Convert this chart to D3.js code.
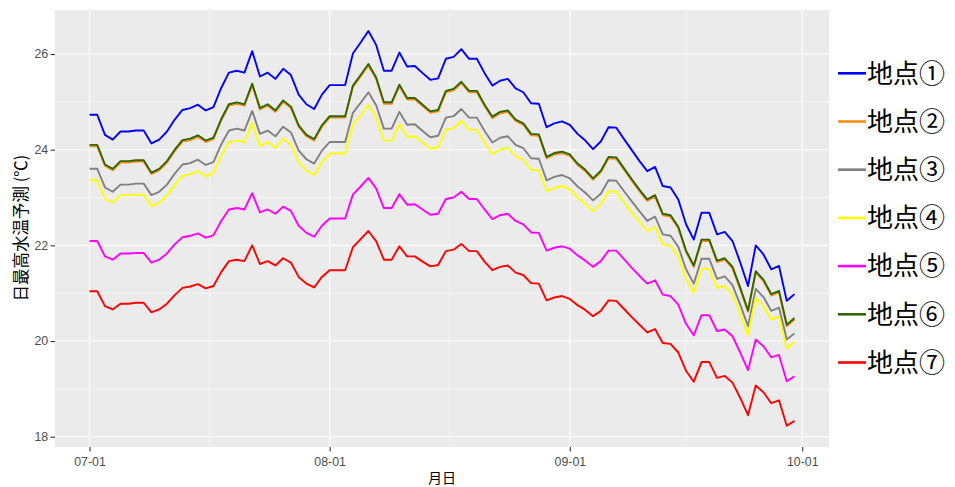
<!DOCTYPE html>
<html><head><meta charset="utf-8">
<script src="https://cdn.jsdelivr.net/npm/d3@7"></script>
<style>body{margin:0;background:#fff}svg{display:block}</style>
</head><body><div id="chart"></div>
<script>
const startDate = "2020-07-01";
const endDate = "2020-09-30";
const seriesNames = ["地点①","地点②","地点③","地点④","地点⑤","地点⑥","地点⑦"];
const seriesColors = ["#0000FF","#FF8C1A","#808080","#FFFF00","#FF00FF","#2F6600","#FF0000"];
const yTicks = [18,20,22,24,26];
const xTickLabels = ["07-01","08-01","09-01","10-01"];

const site1 = [24.73,24.73,24.31,24.21,24.38,24.38,24.40,24.40,24.13,24.21,24.38,24.63,24.83,24.87,24.94,24.82,24.89,25.29,25.61,25.65,25.61,26.06,25.53,25.61,25.48,25.69,25.56,25.15,24.95,24.85,25.15,25.35,25.35,25.35,26.01,26.24,26.48,26.19,25.65,25.65,26.03,25.74,25.75,25.60,25.46,25.49,25.90,25.94,26.10,25.90,25.90,25.60,25.34,25.44,25.48,25.28,25.20,24.97,24.96,24.47,24.55,24.59,24.52,24.33,24.19,24.01,24.17,24.47,24.46,24.22,23.99,23.76,23.55,23.64,23.24,23.21,22.96,22.44,22.12,22.68,22.68,22.23,22.28,22.09,21.64,21.15,22.00,21.81,21.50,21.57,20.84,20.98];
const site2 = [24.07,24.07,23.66,23.57,23.73,23.73,23.75,23.75,23.49,23.57,23.73,23.97,24.17,24.20,24.27,24.16,24.22,24.61,24.92,24.96,24.92,25.35,24.84,24.92,24.79,25.00,24.87,24.48,24.28,24.19,24.48,24.67,24.67,24.67,25.31,25.53,25.76,25.48,24.96,24.96,25.33,25.05,25.05,24.91,24.77,24.80,25.20,25.24,25.39,25.20,25.20,24.91,24.66,24.76,24.79,24.60,24.52,24.30,24.29,23.82,23.90,23.93,23.87,23.68,23.55,23.37,23.53,23.82,23.81,23.58,23.35,23.13,22.93,23.02,22.63,22.60,22.36,21.86,21.55,22.09,22.09,21.65,21.70,21.52,21.08,20.61,21.43,21.25,20.95,21.02,20.31,20.45];
const site3 = [23.60,23.60,23.21,23.12,23.27,23.27,23.29,23.29,23.05,23.12,23.27,23.50,23.69,23.72,23.79,23.68,23.74,24.11,24.40,24.44,24.40,24.81,24.33,24.40,24.28,24.48,24.36,23.98,23.80,23.71,23.98,24.16,24.16,24.16,24.77,24.98,25.20,24.93,24.44,24.44,24.79,24.52,24.53,24.39,24.26,24.29,24.67,24.70,24.85,24.67,24.67,24.39,24.15,24.25,24.28,24.10,24.03,23.82,23.81,23.36,23.43,23.47,23.40,23.23,23.10,22.94,23.08,23.36,23.35,23.13,22.92,22.71,22.51,22.60,22.23,22.20,21.97,21.50,21.20,21.72,21.72,21.30,21.35,21.17,20.76,20.31,21.09,20.92,20.63,20.70,20.03,20.16];
const site4 = [23.36,23.36,22.98,22.89,23.05,23.05,23.06,23.06,22.82,22.89,23.05,23.27,23.45,23.49,23.55,23.44,23.51,23.87,24.16,24.19,24.16,24.56,24.08,24.16,24.04,24.23,24.11,23.74,23.56,23.47,23.74,23.92,23.92,23.92,24.52,24.72,24.94,24.68,24.19,24.19,24.53,24.27,24.28,24.15,24.02,24.05,24.42,24.45,24.60,24.42,24.42,24.15,23.91,24.00,24.04,23.86,23.79,23.58,23.57,23.13,23.20,23.24,23.17,23.00,22.87,22.71,22.86,23.13,23.12,22.90,22.69,22.49,22.30,22.38,22.02,21.99,21.77,21.30,21.01,21.51,21.51,21.11,21.15,20.98,20.57,20.13,20.90,20.73,20.45,20.51,19.85,19.98];
const site5 = [22.09,22.09,21.77,21.70,21.83,21.83,21.84,21.84,21.64,21.70,21.83,22.02,22.17,22.20,22.25,22.16,22.21,22.51,22.75,22.78,22.75,23.09,22.69,22.75,22.66,22.81,22.72,22.41,22.26,22.18,22.41,22.56,22.56,22.56,23.06,23.23,23.41,23.19,22.78,22.78,23.07,22.85,22.86,22.75,22.64,22.66,22.97,23.00,23.12,22.97,22.97,22.75,22.55,22.63,22.66,22.51,22.44,22.27,22.26,21.89,21.95,21.98,21.93,21.79,21.68,21.55,21.67,21.89,21.89,21.71,21.53,21.36,21.20,21.27,20.97,20.94,20.76,20.36,20.12,20.54,20.54,20.21,20.24,20.10,19.76,19.39,20.03,19.89,19.66,19.71,19.16,19.26];
const site6 = [24.10,24.10,23.69,23.60,23.76,23.76,23.78,23.78,23.52,23.60,23.76,24.00,24.20,24.23,24.30,24.19,24.25,24.64,24.95,24.99,24.95,25.38,24.87,24.95,24.82,25.03,24.90,24.51,24.31,24.22,24.51,24.70,24.70,24.70,25.34,25.56,25.79,25.51,24.99,24.99,25.36,25.08,25.08,24.94,24.80,24.83,25.23,25.27,25.42,25.23,25.23,24.94,24.69,24.79,24.82,24.63,24.55,24.33,24.32,23.85,23.93,23.96,23.90,23.71,23.58,23.40,23.56,23.85,23.84,23.61,23.38,23.16,22.96,23.05,22.66,22.63,22.39,21.89,21.58,22.12,22.12,21.68,21.73,21.55,21.11,20.64,21.46,21.28,20.98,21.05,20.34,20.48];
const site7 = [21.04,21.04,20.73,20.66,20.78,20.78,20.80,20.80,20.60,20.66,20.78,20.96,21.11,21.14,21.19,21.10,21.15,21.44,21.67,21.70,21.67,22.00,21.61,21.67,21.58,21.73,21.64,21.34,21.20,21.12,21.34,21.48,21.48,21.48,21.96,22.13,22.30,22.09,21.70,21.70,21.98,21.77,21.77,21.66,21.56,21.59,21.88,21.91,22.03,21.88,21.88,21.66,21.48,21.55,21.58,21.43,21.38,21.21,21.20,20.85,20.91,20.94,20.88,20.75,20.65,20.52,20.63,20.85,20.84,20.67,20.50,20.34,20.18,20.25,19.96,19.94,19.76,19.38,19.15,19.56,19.56,19.23,19.27,19.13,18.81,18.45,19.07,18.93,18.70,18.76,18.23,18.33];
const seriesValues = [site1,site2,site3,site4,site5,site6,site7];

const W = 955, H = 487;
const panel = {left:55, right:829, top:10, bottom:447};
const parse = d3.utcParse("%Y-%m-%d");
const d0 = parse(startDate), d1 = parse(endDate);
const dates = d3.utcDay.range(d0, d3.utcDay.offset(d1, 1));

const x = d3.scaleUtc().domain([d0, d1]).range([89.5, 794.5]);
const y = d3.scaleLinear().domain([18, 26]).range([436.7, 54]);

const svg = d3.select("#chart").append("svg").attr("width", W).attr("height", H)
  .style("font-family", "'Liberation Sans', Arial, sans-serif");

svg.append("rect").attr("x", panel.left).attr("y", panel.top)
  .attr("width", panel.right - panel.left).attr("height", panel.bottom - panel.top)
  .attr("fill", "#EBEBEB");

// grid
const yMinor = [19,21,23,25];
const xMajor = xTickLabels.map(t => parse("2020-" + t));
const xMinor = d3.pairs(xMajor).map(([a,b]) => new Date((+a + +b)/2));
const grid = svg.append("g");
grid.selectAll(".ymin").data(yMinor).join("line")
  .attr("x1", panel.left).attr("x2", panel.right)
  .attr("y1", d => y(d)).attr("y2", d => y(d))
  .attr("stroke", "#fff").attr("stroke-width", 0.55);
grid.selectAll(".xmin").data(xMinor).join("line")
  .attr("y1", panel.top).attr("y2", panel.bottom)
  .attr("x1", d => x(d)).attr("x2", d => x(d))
  .attr("stroke", "#fff").attr("stroke-width", 0.55);
grid.selectAll(".ymaj").data(yTicks).join("line")
  .attr("x1", panel.left).attr("x2", panel.right)
  .attr("y1", d => y(d)).attr("y2", d => y(d))
  .attr("stroke", "#fff").attr("stroke-width", 1.1);
grid.selectAll(".xmaj").data(xMajor).join("line")
  .attr("y1", panel.top).attr("y2", panel.bottom)
  .attr("x1", d => x(d)).attr("x2", d => x(d))
  .attr("stroke", "#fff").attr("stroke-width", 1.1);

// lines
const line = d3.line().x((d,i) => x(dates[i])).y(d => y(d));
svg.append("g").selectAll("path").data(seriesValues).join("path")
  .attr("d", d => line(d))
  .attr("fill", "none")
  .attr("stroke", (d,i) => seriesColors[i])
  .attr("stroke-width", 1.9)
  .attr("stroke-linejoin", "round");

// axes
const yAxis = svg.append("g").attr("transform", `translate(${panel.left},0)`)
  .call(d3.axisLeft(y).tickValues(yTicks).tickSize(4.4).tickPadding(2.4).tickFormat(d3.format("d")));
const xAxis = svg.append("g").attr("transform", `translate(0,${panel.bottom})`)
  .call(d3.axisBottom(x).tickValues(xMajor).tickSize(4.4).tickPadding(5.6).tickFormat(d3.utcFormat("%m-%d")));
[yAxis, xAxis].forEach(a => {
  a.select(".domain").remove();
  a.selectAll(".tick line").attr("stroke", "#333333").attr("stroke-width", 1.1);
  a.selectAll(".tick text").attr("fill", "#4D4D4D").style("font-size", "12.4px")
   .style("font-family", "'Liberation Sans', Arial, sans-serif");
});

// axis titles
const cjk = "'Noto Sans CJK JP', 'Noto Sans CJK SC', sans-serif";
svg.append("text").attr("x", (panel.left + panel.right)/2).attr("y", 483)
  .attr("text-anchor", "middle").style("font-family", cjk).style("font-size", "14px")
  .attr("fill", "#000").text("月日");
svg.append("text").attr("transform", `translate(27,228) rotate(-90)`)
  .attr("text-anchor", "middle").style("font-family", cjk).style("font-size", "16.5px")
  .attr("fill", "#000").text("日最高水温予測 (℃)");

// legend
const lg = svg.append("g");
const legY = i => 73.3 + i * 48.2;
seriesNames.forEach((name, i) => {
  lg.append("line").attr("x1", 838).attr("x2", 866).attr("y1", legY(i)).attr("y2", legY(i))
    .attr("stroke", seriesColors[i]).attr("stroke-width", 2.6);
  lg.append("text").attr("x", 867).attr("y", legY(i)).attr("dy", "0.36em")
    .style("font-family", cjk).style("font-size", "26px").attr("fill", "#000").text(name);
});
</script></body></html>
